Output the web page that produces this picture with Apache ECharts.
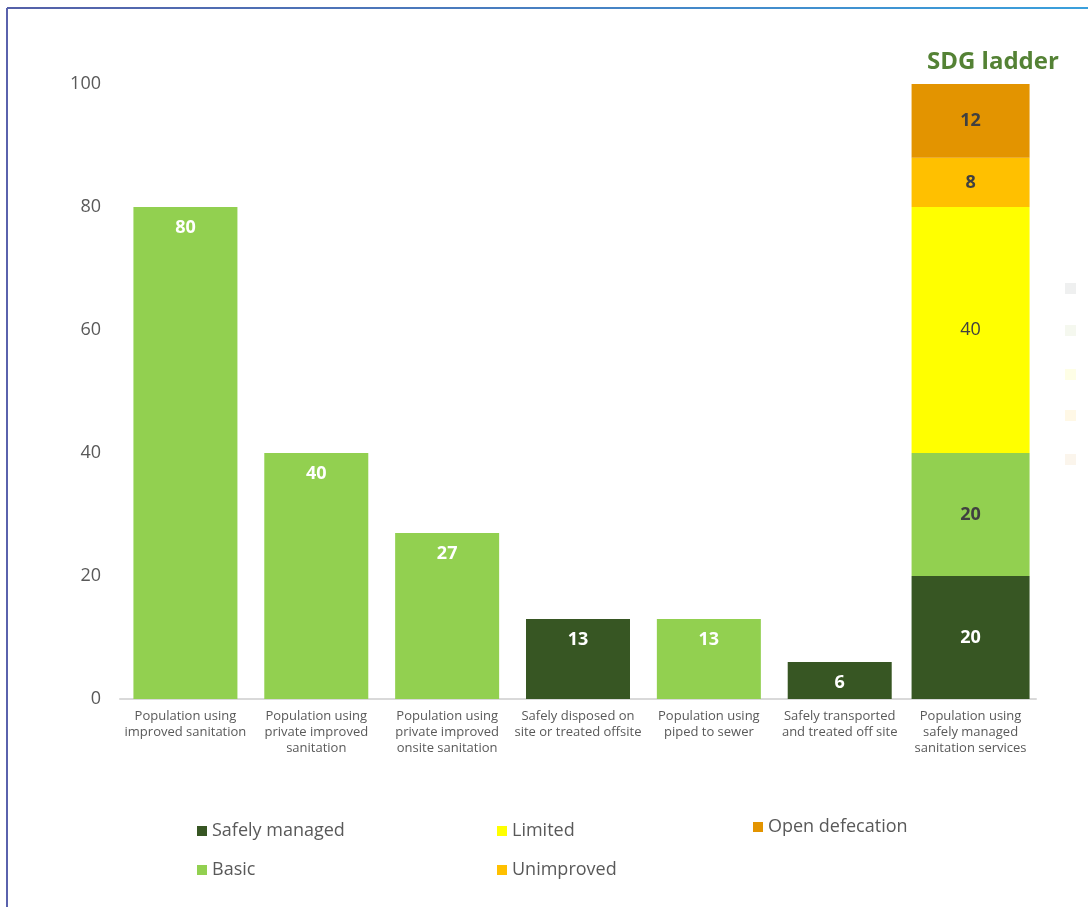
<!DOCTYPE html>
<html>
<head>
<meta charset="utf-8">
<script src="https://cdn.jsdelivr.net/npm/echarts@6/dist/echarts.min.js"></script>
<style>
  html, body { margin: 0; padding: 0; background: #ffffff; }
  #chart { width: 1088px; height: 907px; }
</style>
</head>
<body>
<div id="chart"></div>
<script>
// Sanitation indicators (percent of population)
const categories = [
  'Population using\nimproved sanitation',
  'Population using\nprivate improved\nsanitation',
  'Population using\nprivate improved\nonsite sanitation',
  'Safely disposed on\nsite or treated offsite',
  'Population using\npiped to sewer',
  'Safely transported\nand treated off site',
  'Population using\nsafely managed\nsanitation services'
];
// Indicator bars
const indicatorSafely = [null, null, null, 13, null, 6, null];
const indicatorBasic  = [80, 40, 27, null, 13, null, null];
// SDG ladder (last column)
const ladderSafely  = [null, null, null, null, null, null, 20];
const ladderBasic   = [null, null, null, null, null, null, 20];
const ladderLimited = [null, null, null, null, null, null, 40];
const ladderUnimproved = [null, null, null, null, null, null, 8];
const ladderOpen    = [null, null, null, null, null, null, 12];
const yTicks = [0, 20, 40, 60, 80, 100];

const FONT = 'Open Sans';
const C = {
  safely: '#375623',
  basic: '#92d050',
  limited: '#ffff00',
  unimproved: '#ffc000',
  open: '#e39400',
  text: '#595959',
  dark: '#404040'
};

const chart = echarts.init(document.getElementById('chart'), null, { renderer: 'canvas' });

function mainBar(name, data, color) {
  return {
    name, type: 'bar', data, xAxisIndex: 0, stack: 'main', barWidth: 104,
    itemStyle: { color },
    label: {
      show: true, position: 'insideTop', distance: 12,
      color: '#ffffff', fontFamily: FONT, fontWeight: 'bold', fontSize: 18
    }
  };
}
function ladderBar(name, data, color, labelColor, bold) {
  return {
    name, type: 'bar', data, xAxisIndex: 1, stack: 'ladder', barWidth: 118,
    itemStyle: { color },
    label: {
      show: true, position: 'inside',
      color: labelColor, fontFamily: FONT, fontWeight: bold ? 'bold' : 'normal', fontSize: 18
    }
  };
}

const legendText = { color: C.text, fontFamily: FONT, fontSize: 18 };
const legendBase = {
  orient: 'vertical', icon: 'rect', itemWidth: 10, itemHeight: 10,
  itemGap: 21, textStyle: legendText, selectedMode: false
};

chart.setOption({
  backgroundColor: '#ffffff',
  animation: false,
  title: {
    text: 'SDG ladder', left: 922, top: 45,
    textStyle: { color: '#548235', fontFamily: FONT, fontWeight: 'bold', fontSize: 24 }
  },
  grid: { left: 120, right: 52, top: 84, bottom: 208 },
  legend: [
    Object.assign({}, legendBase, { left: 192, top: 817, data: ['Safely managed', 'Basic'] }),
    Object.assign({}, legendBase, { left: 492, top: 817, data: ['Limited', 'Unimproved'] }),
    Object.assign({}, legendBase, { left: 748, top: 813, data: ['Open defecation'] })
  ],
  xAxis: [
    {
      type: 'category', data: categories,
      axisLine: { lineStyle: { color: '#d9d9d9', width: 2 } },
      axisTick: { show: false },
      axisLabel: {
        interval: 0, margin: 9, color: C.text, fontFamily: FONT,
        fontSize: 13, lineHeight: 16
      }
    },
    { type: 'category', data: categories, show: false }
  ],
  yAxis: {
    type: 'value', min: yTicks[0], max: yTicks[yTicks.length - 1], interval: 20,
    axisLine: { show: false }, axisTick: { show: false }, splitLine: { show: false },
    axisLabel: { margin: 19, color: C.text, fontFamily: FONT, fontSize: 18 }
  },
  series: [
    mainBar('Safely managed', indicatorSafely, C.safely),
    mainBar('Basic', indicatorBasic, C.basic),
    ladderBar('Safely managed', ladderSafely, C.safely, '#ffffff', true),
    ladderBar('Basic', ladderBasic, C.basic, C.dark, true),
    ladderBar('Limited', ladderLimited, C.limited, C.dark, false),
    ladderBar('Unimproved', ladderUnimproved, C.unimproved, C.dark, true),
    ladderBar('Open defecation', ladderOpen, C.open, C.dark, true)
  ],
  graphic: [
    // frame edges
    {
      type: 'line', shape: { x1: 7, y1: 8, x2: 1088, y2: 8 },
      style: {
        lineWidth: 2,
        stroke: new echarts.graphic.LinearGradient(0, 0, 1, 0, [
          { offset: 0, color: '#5560a8' }, { offset: 1, color: '#3aa0dc' }
        ])
      }
    },
    { type: 'line', shape: { x1: 7, y1: 8, x2: 7, y2: 907 }, style: { lineWidth: 2, stroke: '#5a62ad' } },
    // faint swatches at the right edge
    { type: 'rect', shape: { x: 1065, y: 283, width: 11, height: 11 }, style: { fill: '#eff0f0' } },
    { type: 'rect', shape: { x: 1065, y: 325, width: 11, height: 11 }, style: { fill: '#f5f8ef' } },
    { type: 'rect', shape: { x: 1065, y: 369, width: 11, height: 11 }, style: { fill: '#fefee6' } },
    { type: 'rect', shape: { x: 1065, y: 410, width: 11, height: 11 }, style: { fill: '#fff8e6' } },
    { type: 'rect', shape: { x: 1065, y: 454, width: 11, height: 11 }, style: { fill: '#fbf5ec' } }
  ]
});
</script>
</body>
</html>
